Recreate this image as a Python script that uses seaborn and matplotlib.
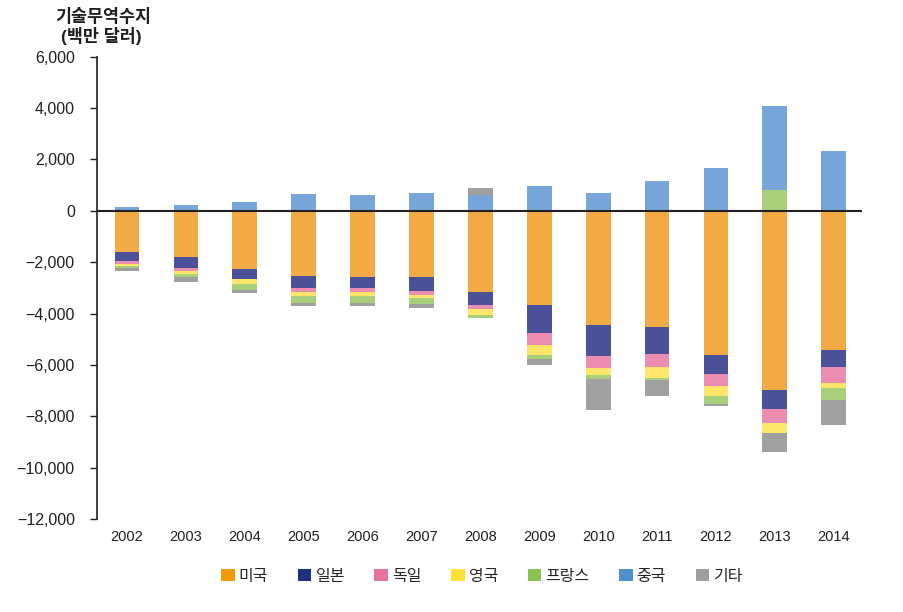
import numpy as np
import pandas as pd
import matplotlib
matplotlib.use('Agg')
import matplotlib.pyplot as plt
from matplotlib.patches import Patch
from matplotlib.ticker import FuncFormatter, FixedLocator
import seaborn as sns

years = ['2002', '2003', '2004', '2005', '2006', '2007', '2008',
         '2009', '2010', '2011', '2012', '2013', '2014']
countries = ['미국', '일본', '독일', '영국', '프랑스', '중국', '기타']

# 기술무역수지 (백만 달러)
us = [-1590, -1780, -2260, -2530, -2570, -2570, -3160, -3670, -4450, -4530, -5590, -6960, -5430]
japan = [-350, -430, -390, -470, -430, -550, -510, -1100, -1180, -1020, -745, -745, -630]
germany = [-120, -120, 0, -160, -160, -160, -160, -430, -470, -510, -470, -550, -630]
uk = [-100, -120, -200, -160, -160, -120, -235, -390, -275, -430, -390, -390, -200]
france = [-50, -120, -235, -275, -275, -235, -120, -160, -160, -80, -315, 800, -470]
china = [150, 220, 330, 650, 610, 690, 610, 960, 690, 1160, 1670, 3300, 2330]
other = [-120, -200, -120, -120, -120, -160, 270, -235, -1215, -630, -80, -745, -980]

bar_colors = ['#F2AB44', '#4A5199', '#EB8DB0', '#FEE66A', '#A8D07A', '#78A6D8', '#A0A0A0']
legend_colors = ['#F39A00', '#1F3282', '#E77399', '#FFE135', '#8CC152', '#4E90CF', '#9E9E9E']

sns.set_theme(style='white')
plt.rcParams['font.family'] = ['Liberation Sans', 'Noto Sans CJK KR']
plt.rcParams['axes.unicode_minus'] = True

df = pd.DataFrame({'미국': us, '일본': japan, '독일': germany, '영국': uk,
                   '프랑스': france, '중국': china, '기타': other}, index=years)

pos = df.clip(lower=0).cumsum(axis=1)
neg = df.clip(upper=0).cumsum(axis=1)

fig = plt.figure(figsize=(9.04, 6.12), dpi=100)
ax = fig.add_axes([97 / 904, 1 - 519.3 / 612, (862 - 97) / 904, (519.3 - 56.7) / 612])

# stacked bars: draw cumulative totals from the outermost layer inwards
for i in reversed(range(len(countries))):
    c = countries[i]
    for part in (pos, neg):
        sns.barplot(x=years, y=part[c].values, color=bar_colors[i], saturation=1,
                    width=0.42, linewidth=0, ax=ax, order=years)

ax.axhline(0, color='#231f20', lw=1.5, zorder=5)

ax.set_xlim(-0.51, 12.48)
ax.set_ylim(-12000, 6000)
ax.yaxis.set_major_locator(FixedLocator(np.arange(-12000, 6001, 2000)))
ax.yaxis.set_major_formatter(FuncFormatter(lambda v, p: f'{v:,.0f}'.replace('-', '\u2212')))
ax.tick_params(axis='y', length=5, width=1, color='#231f20', labelsize=11.5,
               labelcolor='#231f20', pad=11, left=True, direction='out')
ax.tick_params(axis='x', length=0, labelsize=10.5, labelcolor='#231f20', pad=8)
ax.set_xlabel('')
ax.set_ylabel('')

for s in ['top', 'right', 'bottom']:
    ax.spines[s].set_visible(False)
ax.spines['left'].set_color('#231f20')
ax.spines['left'].set_linewidth(1.2)

fig.text(103 / 904, 1 - 16 / 612, '기술무역수지', ha='center', va='center',
         fontsize=12.5, fontweight='bold', color='#231f20')
fig.text(101 / 904, 1 - 36 / 612, '(백만 달러)', ha='center', va='center',
         fontsize=12.5, fontweight='bold', color='#231f20')

handles = [Patch(facecolor=legend_colors[i], edgecolor='none', label=countries[i])
           for i in range(len(countries))]
fig.legend(handles=handles, loc='center', bbox_to_anchor=(482 / 904, 1 - 576 / 612),
           ncol=7, frameon=False, fontsize=11.5, handlelength=0.85, handleheight=0.85,
           handletextpad=0.25, columnspacing=1.85)

fig.savefig('out.png', dpi=100)
